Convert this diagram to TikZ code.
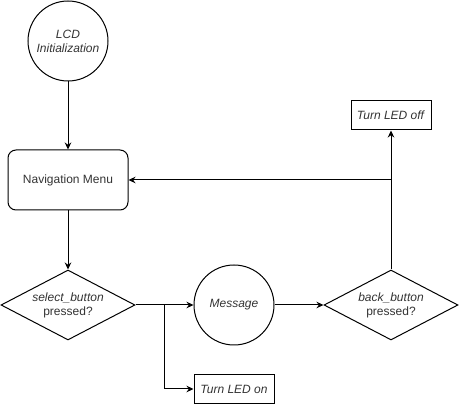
\documentclass[tikz,border=0pt]{standalone}
\usepackage{fontspec}
\setmainfont{Liberation Sans}
\usepackage{tikz}
\usetikzlibrary{arrows.meta,shapes.geometric}
\definecolor{txtgray}{HTML}{333333}
\tikzstyle{every node}=[font=\fontsize{12}{14}\selectfont, text=txtgray]
\tikzstyle{state}=[draw, circle, minimum size=80pt, inner sep=0pt, align=center]
\tikzstyle{menu}=[draw, rounded corners=8pt, minimum width=120pt, minimum height=60pt, inner sep=0pt]
\tikzstyle{decision}=[draw, diamond, aspect=1.9, minimum width=134pt, minimum height=70pt, inner sep=0pt, align=center]
\tikzstyle{action}=[draw, minimum width=80pt, minimum height=29pt, inner sep=0pt]
\tikzstyle{edge}=[draw, line width=1pt, ->, >={Stealth[length=7pt,width=6.5pt]}]

\begin{document}
\begin{tikzpicture}[x=1pt, y=-1pt, line width=1pt]
    \useasboundingbox (0,0) rectangle (459,406);
    % the states and boxes
    \node[state] (lcd) at (68,41) {\textit{LCD}\\\textit{Initialization}};
    \node[menu] (nav) at (68,180) {Navigation Menu};
    \node[decision] (sel) at (68,305) {\textit{select\_button}\\pressed?};
    \node[state] (msg) at (234,305) {\textit{Message}};
    \node[decision] (back) at (391,305) {\textit{back\_button}\\pressed?};
    \node[action] (ledon) at (234,389) {\textit{Turn LED on}};
    \node[action] (ledoff) at (391,115.5) {\textit{Turn LED off}};
    % branch points
    \coordinate (fork) at (164,305);
    \coordinate (join) at (391,180);
    % connect them
    \foreach \source/\dest in {lcd/nav, nav/sel, sel/msg, msg/back, back/ledoff}
        \path[edge] (\source) -- (\dest);
    \path[edge] (fork) |- (ledon);
    \path[edge] (join) -- (nav);
\end{tikzpicture}
\end{document}
